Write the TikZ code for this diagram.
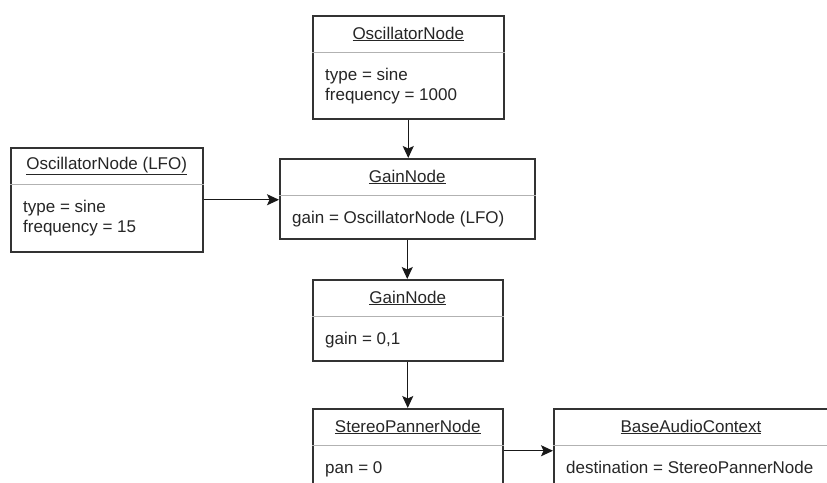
\documentclass[tikz,border=0pt]{standalone}
\usepackage{fontspec}
\setmainfont{Liberation Sans}
\usetikzlibrary{arrows.meta}
\tikzset{
  ClassStyle/.style = { rectangle, draw = black!80, line width = 1.5pt,
                        fill = white, anchor = north west, inner sep = 0pt},
  DividerStyle/.style = { draw = black!30, line width = 1pt},
  TitleStyle/.style = { text = black!85, inner sep = 0pt,
                        font = \fontsize{17}{20}\selectfont},
  TextStyle/.style = { text = black!85, inner sep = 0pt, anchor = north west,
                       align = left, font = \fontsize{17}{19.5}\selectfont},
  EdgeStyle/.style = { -{Stealth[length=12pt, width=11pt, inset=2.5pt]},
                       draw = black!90, line width = 1.4pt} }

\begin{document}
\begin{tikzpicture}[x=1pt, y=-1pt]
  \useasboundingbox (0,0) rectangle (827,482);
  \clip (0,0) rectangle (827,482);

  % class boxes
  \node[ClassStyle, minimum width=191pt, minimum height=103pt](OSC) at (312,15) {};
  \node[ClassStyle, minimum width=192pt, minimum height=104pt](LFO) at (10,147) {};
  \node[ClassStyle, minimum width=255pt, minimum height=80pt](GAINA) at (279,158) {};
  \node[ClassStyle, minimum width=190pt, minimum height=81pt](GAINB) at (312,279) {};
  \node[ClassStyle, minimum width=190pt, minimum height=84pt](PAN) at (312,408) {};
  \node[ClassStyle, minimum width=300pt, minimum height=84pt](CTX) at (553,408) {};

  % dividers
  \foreach \cls in {OSC,LFO,GAINA,GAINB,PAN,CTX}
    \draw[DividerStyle] ([yshift=-37pt]\cls.north west) -- ([yshift=-37pt]\cls.north east);

  % titles
  \node[TitleStyle](OSCT) at ([yshift=-19pt]OSC.north) {\underline{OscillatorNode}};
  \node[TitleStyle](LFOT) at ([yshift=-19pt]LFO.north) {\underline{OscillatorNode (LFO)}};
  \node[TitleStyle](GAINAT) at ([yshift=-19pt]GAINA.north) {\underline{GainNode}};
  \node[TitleStyle](GAINBT) at ([yshift=-19pt]GAINB.north) {\underline{GainNode}};
  \node[TitleStyle](PANT) at ([yshift=-19pt]PAN.north) {\underline{StereoPannerNode}};
  \node[TitleStyle](CTXT) at (691,427) {\underline{BaseAudioContext}};

  % attributes
  \node[TextStyle](OSCA) at ([shift={(13pt,-53pt)}]OSC.north west) {type = sine\\frequency = 1000};
  \node[TextStyle](LFOA) at ([shift={(13pt,-53pt)}]LFO.north west) {type = sine\\frequency = 15};
  \node[TextStyle](GAINAA) at ([shift={(13pt,-53pt)}]GAINA.north west) {gain = OscillatorNode (LFO)};
  \node[TextStyle](GAINBA) at ([shift={(13pt,-53pt)}]GAINB.north west) {gain = 0,1};
  \node[TextStyle](PANA) at ([shift={(13pt,-53pt)}]PAN.north west) {pan = 0};
  \node[TextStyle](CTXA) at ([shift={(13pt,-53pt)}]CTX.north west) {destination = StereoPannerNode};

  % connections
  \draw[EdgeStyle] (OSC.south) -- (OSC.south |- GAINA.north);
  \draw[EdgeStyle] (LFO.east) -- (LFO.east -| GAINA.west);
  \draw[EdgeStyle] (GAINA.south) -- (GAINA.south |- GAINB.north);
  \draw[EdgeStyle] (GAINB.south) -- (GAINB.south |- PAN.north);
  \draw[EdgeStyle] (PAN.east) -- (PAN.east -| CTX.west);
\end{tikzpicture}
\end{document}
